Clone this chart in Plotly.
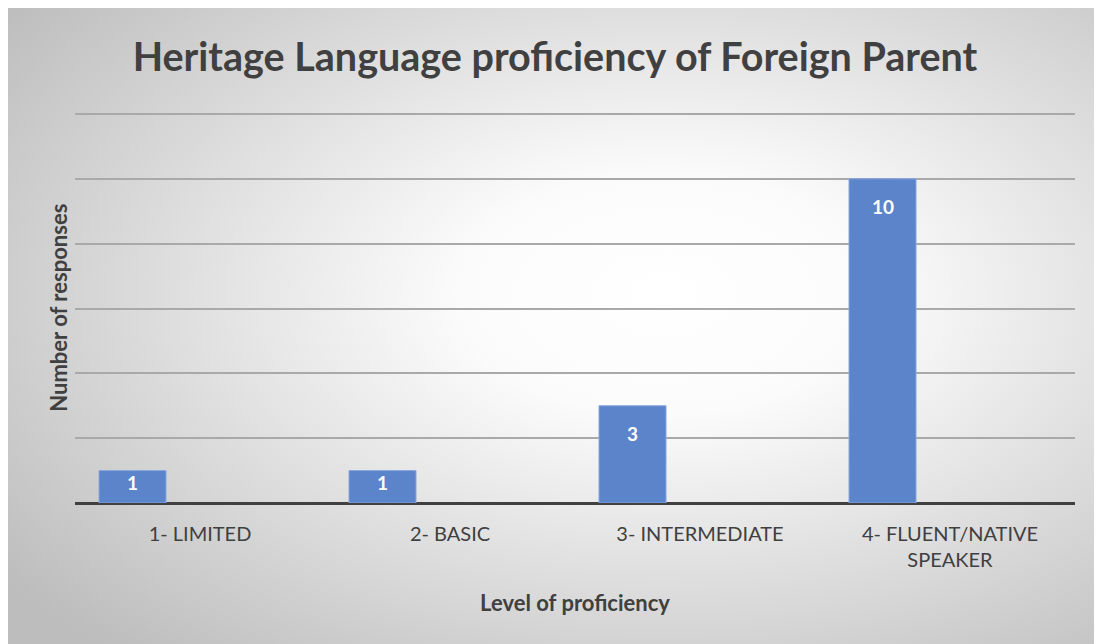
import base64
import plotly.graph_objects as go

categories = ["1- LIMITED", "2- BASIC", "3- INTERMEDIATE", "4- FLUENT/NATIVE<br>SPEAKER"]
responses = [1, 1, 3, 10]
y_ticks = [0, 2, 4, 6, 8, 10, 12]

W, H = 1094, 636
FONT = "Lato"
TXT = "#404040"
Y_TOP = 12.05
PLOT_TOP, PLOT_BOT = 104.4, 495
PX_PER_UNIT = (PLOT_BOT - PLOT_TOP) / Y_TOP
BAR_W, BAR_OFF = 0.268, -0.404

# radial grey-to-white backdrop like the Excel chart style
svg = (
    '<svg xmlns="http://www.w3.org/2000/svg" width="1094" height="636">'
    '<defs><radialGradient id="g" cx="0.6" cy="0.45" r="0.75">'
    '<stop offset="0" stop-color="#ffffff"/>'
    '<stop offset="0.25" stop-color="#fbfbfb"/>'
    '<stop offset="1" stop-color="#bdbdbd"/>'
    '</radialGradient></defs>'
    '<rect width="100%" height="100%" fill="url(#g)"/></svg>'
)
bg = "data:image/svg+xml;base64," + base64.b64encode(svg.encode()).decode()

fig = go.Figure()
fig.add_trace(go.Bar(
    x=list(range(len(categories))), y=responses,
    width=BAR_W, offset=BAR_OFF,
    marker=dict(color="#5b84cb", line=dict(color="#88a6dc", width=1)),
    hoverinfo="y",
))

# value labels near the top inside each bar
for i, v in enumerate(responses):
    shift = -min(28, v * PX_PER_UNIT - 21)
    fig.add_annotation(
        x=i + BAR_OFF + BAR_W / 2, y=v, yshift=shift,
        text=f"<b>{v}</b>", showarrow=False,
        font=dict(family=FONT, size=19, color="white"),
    )

fig.update_layout(
    width=W, height=H,
    margin=dict(l=0, r=0, t=0, b=0),
    paper_bgcolor="white",
    plot_bgcolor="rgba(0,0,0,0)",
    showlegend=False,
    images=[dict(source=bg, xref="paper", yref="paper", x=0, y=1,
                 sizex=1, sizey=1, sizing="stretch", layer="below")],
    title=dict(text="<b>Heritage Language proficiency of Foreign Parent</b>",
               x=0.5, xanchor="center", y=1 - 49 / H, yanchor="middle",
               font=dict(family=FONT, size=39.5, color=TXT)),
)

fig.update_xaxes(
    domain=[67 / W, 1067 / W], range=[-0.5, len(categories) - 0.5],
    tickvals=list(range(len(categories))), ticktext=categories,
    showgrid=False, showline=False,
    ticks="outside", ticklen=13, tickcolor="rgba(0,0,0,0)",
    tickfont=dict(family=FONT, size=20, color=TXT),
    title=dict(text="<b>Level of proficiency</b>", standoff=25,
               font=dict(family=FONT, size=22, color=TXT)),
)
fig.update_yaxes(
    domain=[1 - PLOT_BOT / H, 1 - PLOT_TOP / H],
    range=[0, Y_TOP], tickvals=y_ticks, showticklabels=False,
    showgrid=True, gridcolor="#a9a9a9", gridwidth=2,
    zeroline=True, zerolinecolor="#404040", zerolinewidth=3,
    title=dict(text="<b>Number of responses</b>", standoff=0,
               font=dict(family=FONT, size=22, color=TXT)),
)

fig.write_html("out.html")
